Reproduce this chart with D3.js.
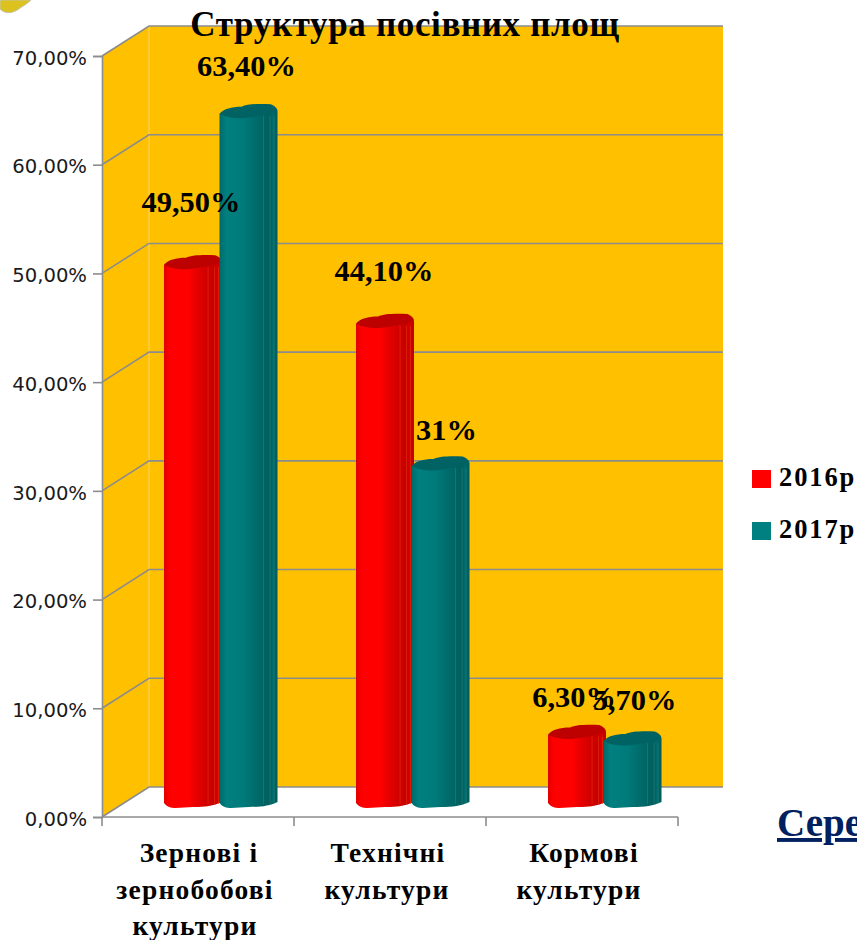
<!DOCTYPE html>
<html><head><meta charset="utf-8">
<script src="https://d3js.org/d3.v7.min.js"></script>
<style>
html,body{margin:0;padding:0;background:#fff;overflow:hidden}
svg{display:block}
</style></head><body>
<div id="c"></div>
<script>
const categories = [["Зернові і","зернобобові","культури"],["Технічні","культури"],["Кормові","культури"]];
const seriesNames = ["2016р","2017р"];
const values2016 = [49.5,44.1,6.3];
const values2017 = [63.4,31,5.7];
const labels2016 = ["49,50%","44,10%","6,30%"];
const labels2017 = ["63,40%","31%","5,70%"];
const tickValues = [0,10,20,30,40,50,60,70];
const colors = ["#ff0000","#008080"];

const W=857,H=940;
const svg=d3.select("#c").append("svg").attr("width",W).attr("height",H);
const serif="'Liberation Serif','Times New Roman',serif";
const depth={x:47,y:-30};
const barLift=10;
const y=d3.scaleLinear().domain([0,70]).range([817,56]);
const x0=d3.scaleBand().domain(d3.range(categories.length)).range([102,678]);
const x1=d3.scaleBand().domain(seriesNames).range([62,173]);
const barW=x1.bandwidth()+2.5;

const defs=svg.append("defs");
const shades=[
 [["#e00000",0],["#ff0000",.1],["#ff0000",.42],["#e80000",.55],["#d20000",.72],["#c80000",.86],["#d40000",.92],["#c00000",1]],
 [["#006a6a",0],["#008080",.12],["#007a7a",.42],["#006e6e",.58],["#006666",.72],["#005f5f",.86],["#006a6a",.92],["#005a5a",1]]
];
shades.forEach((s,i)=>{
  const g=defs.append("linearGradient").attr("id","g"+i);
  s.forEach(d=>g.append("stop").attr("offset",d[1]).attr("stop-color",d[0]));
});

const grey="#8c8c8c";
const wallX=x0.range()[0]+depth.x;
svg.append("path").attr("fill","#ffc000")
 .attr("d",d3.line()([[102,y(70)],[wallX,y(70)+depth.y],[wallX,y(0)+depth.y],[102,y(0)]]));
svg.append("rect").attr("x",wallX).attr("y",y(70)+depth.y).attr("width",723-wallX).attr("height",y(0)-y(70))
 .attr("fill","#ffc000");
svg.append("line").attr("x1",wallX).attr("x2",wallX).attr("y1",y(70)+depth.y).attr("y2",y(0)+depth.y)
 .attr("stroke","#ffd75e").attr("stroke-width",1);
tickValues.forEach(t=>{
  const yy=y(t);
  svg.append("path").attr("fill","none").attr("stroke",grey).attr("stroke-width",1.6)
   .attr("d",d3.line()([[102,yy],[wallX,yy+depth.y],[723,yy+depth.y]]));
});

const axisY=svg.append("g").attr("transform","translate(102,0)")
 .call(d3.axisLeft(y).tickValues(tickValues).tickSize(9).tickPadding(6)
   .tickFormat(d=>d3.format(".2f")(d).replace(".",",")+"%"));
axisY.selectAll("path,line").attr("stroke",grey).attr("stroke-width",1.6);
axisY.selectAll("text").attr("font-family","'DejaVu Sans',sans-serif").attr("font-size",19.6).attr("fill","#1a1a1a").attr("dy","0.42em");

const xBase=svg.append("g");
xBase.append("line").attr("x1",102).attr("x2",678).attr("y1",y(0)).attr("y2",y(0)).attr("stroke",grey).attr("stroke-width",1.6);
[0,1,2].forEach(i=>xBase.append("line").attr("x1",x0(i)).attr("x2",x0(i)).attr("y1",y(0)).attr("y2",y(0)+9).attr("stroke",grey).attr("stroke-width",1.6));
xBase.append("line").attr("x1",678).attr("x2",678).attr("y1",y(0)).attr("y2",y(0)+9).attr("stroke",grey).attr("stroke-width",1.6);

function drawBar(g,bx,v,i){
  const top=y(v)-barLift, bot=y(0)-barLift, w=barW;
  g.append("path").attr("fill","url(#g"+i+")")
   .attr("d",`M${bx},${top-4}L${bx+w},${top-7}L${bx+w},${bot-5}C${bx+w*.85},${bot-1} ${bx+w*.72},${bot} ${bx+w*.5},${bot}L${bx+w*.2},${bot+1}C${bx+w*.12},${bot+1} ${bx+w*.05},${bot} ${bx},${bot-4}Z`);
  [.76,.87,.94].forEach(f=>g.append("line").attr("x1",bx+w*f).attr("x2",bx+w*f).attr("y1",top-2).attr("y2",bot-3)
    .attr("stroke",i?"#3f8f7a":"#f04a10").attr("stroke-width",.6).attr("opacity",.7));
  g.append("path").attr("fill",i?"#006262":"#bd0000")
   .attr("d",`M${bx},${top-4}C${bx+w*.08},${top-9} ${bx+w*.2},${top-11} ${bx+w*.38},${top-11}C${bx+w*.48},${top-14} ${bx+w*.7},${top-14} ${bx+w*.88},${top-13.5}C${bx+w*.95},${top-12.5} ${bx+w},${top-9} ${bx+w},${top-7}C${bx+w*.88},${top-3} ${bx+w*.75},${top-3} ${bx+w*.6},${top-1}C${bx+w*.42},${top+1} ${bx+w*.18},${top+2} ${bx},${top-4}Z`);
}
categories.forEach((c,ci)=>{
  const g=svg.append("g");
  drawBar(g,x0(ci)+x1(seriesNames[0]),values2016[ci],0);
  drawBar(g,x0(ci)+x1(seriesNames[1]),values2017[ci],1);
});

const firstLineShift=[4,1,5];
const catG=svg.append("g").attr("font-family",serif).attr("font-weight","bold").attr("font-size",27.5).attr("letter-spacing",1.2).attr("text-anchor","middle").attr("fill","#000");
categories.forEach((lines,i)=>{
  const cx=x0(i)+x0.bandwidth()/2-3;
  lines.forEach((l,j)=>catG.append("text").attr("x",cx+(j===0?firstLineShift[i]:0)).attr("y",862+j*36.6).text(l));
});

const labelLift2016=[57,47,32], labelLift2017=[42,30,35];
const labelShift2016=[-2,-1,-3], labelShift2017=[-2,6,2];
const lblG=svg.append("g").attr("font-family",serif).attr("font-weight","bold").attr("font-size",30.4).attr("text-anchor","middle").attr("fill","#000");
categories.forEach((c,i)=>{
  const a=x0(i)+x1(seriesNames[0])+barW/2, b=x0(i)+x1(seriesNames[1])+barW/2;
  lblG.append("text").attr("x",a+labelShift2016[i]).attr("y",y(values2016[i])-barLift-labelLift2016[i]).text(labels2016[i]);
  lblG.append("text").attr("x",b+labelShift2017[i]).attr("y",y(values2017[i])-barLift-labelLift2017[i]).text(labels2017[i]);
});

svg.append("text").attr("x",405).attr("y",36).attr("text-anchor","middle")
 .attr("font-family",serif).attr("font-weight","bold").attr("font-size",35).attr("letter-spacing",.65).attr("fill","#000")
 .text("Структура посівних площ");

seriesNames.forEach((s,i)=>{
  const yy=470+i*52;
  svg.append("rect").attr("x",752).attr("y",yy).attr("width",19).attr("height",18).attr("fill",colors[i]);
  svg.append("text").attr("x",779).attr("y",yy+16).attr("font-family",serif).attr("font-weight","bold")
   .attr("font-size",26.5).attr("letter-spacing",1.9).attr("fill","#000").text(s);
});

svg.append("text").attr("x",777).attr("y",836).attr("font-family",serif).attr("font-weight","bold")
 .attr("font-size",39).attr("fill","#002060").attr("text-decoration","underline").text("Сере");

svg.append("path").attr("fill","#dcc21e").attr("stroke","#c4c4a8").attr("stroke-width",1)
 .attr("d","M0,9 C6,15 14,13 20,8 C25,5 28,3 31,0 L0,0Z");
</script>
</body></html>
